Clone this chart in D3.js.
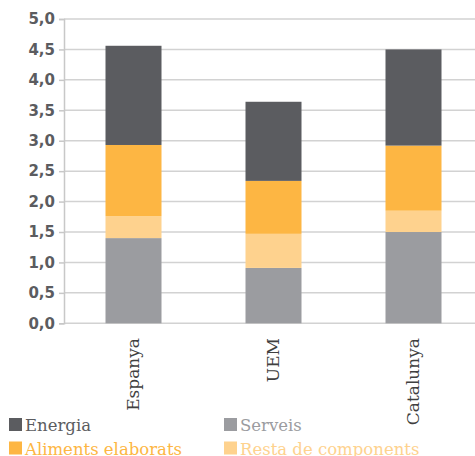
<!DOCTYPE html>
<html>
<head>
<meta charset="utf-8">
<script src="https://cdn.jsdelivr.net/npm/d3@7"></script>
<style>
  html, body { margin: 0; padding: 0; background: #ffffff; }
  svg { display: block; }
</style>
</head>
<body>
<svg id="chart" width="475" height="456"></svg>
<script>
// Contribució de cada component a la inflació
const categories = ["Espanya", "UEM", "Catalunya"];
const serveis    = [1.40, 0.91, 1.50];
const resta      = [0.36, 0.56, 0.35];
const aliments   = [1.17, 0.87, 1.07];
const energia    = [1.63, 1.30, 1.58];
const yTicks     = [0, 0.5, 1, 1.5, 2, 2.5, 3, 3.5, 4, 4.5, 5];

// stacking order, bottom to top
const seriesNames = ["Serveis", "Resta de components", "Aliments elaborats", "Energia"];
const seriesValues = [serveis, resta, aliments, energia];
const colors = {
  "Energia": "#5b5c60",
  "Serveis": "#9b9ca0",
  "Aliments elaborats": "#fdb643",
  "Resta de components": "#fed28e"
};

const rows = categories.map((c, i) => {
  const r = { cat: c };
  seriesNames.forEach((s, k) => { r[s] = seriesValues[k][i]; });
  return r;
});
const stacked = d3.stack().keys(seriesNames)(rows);

const svg = d3.select("#chart");
const y = d3.scaleLinear().domain([0, 5]).range([323.3, 19]);
const x = d3.scaleBand().domain(categories).range([63.5, 483.5])
  .paddingInner(0.6).paddingOuter(0.3);
const axisX = 64;

// horizontal grid
svg.append("g").selectAll("line").data(yTicks).join("line")
  .attr("x1", axisX).attr("x2", 475)
  .attr("y1", d => y(d)).attr("y2", d => y(d))
  .attr("stroke", "#d2d2d2").attr("stroke-width", 1.5);

// bars
svg.append("g").selectAll("g").data(stacked).join("g")
  .attr("fill", d => colors[d.key])
  .selectAll("rect").data(d => d).join("rect")
  .attr("x", d => x(d.data.cat))
  .attr("width", x.bandwidth())
  .attr("y", d => y(d[1]))
  .attr("height", d => y(d[0]) - y(d[1]));

// y axis
const yAxis = d3.axisLeft(y).tickValues(yTicks).tickSize(5).tickPadding(4)
  .tickFormat(d => d3.format(".1f")(d).replace(".", ","));
const ya = svg.append("g").attr("transform", `translate(${axisX},0)`).call(yAxis);
ya.select(".domain").attr("stroke", "#c8c8c8").attr("stroke-width", 1.5);
ya.selectAll(".tick line").attr("stroke", "#c8c8c8").attr("stroke-width", 1.5);
ya.selectAll(".tick text")
  .attr("fill", "#5b5c60")
  .style("font-family", "'DejaVu Sans', sans-serif")
  .style("font-weight", "bold")
  .style("font-size", "15px");

// category labels, rotated
svg.append("g").selectAll("text").data(categories).join("text")
  .attr("transform", d => `translate(${x(d) + x.bandwidth() / 2},338) rotate(-90)`)
  .attr("text-anchor", "end")
  .attr("dy", "0.3em")
  .attr("fill", "#404040")
  .style("font-family", "'DejaVu Serif', serif")
  .style("font-size", "17px")
  .text(d => d);

// legend
const legendItems = ["Energia", "Serveis", "Aliments elaborats", "Resta de components"];
const lg = svg.append("g").selectAll("g").data(legendItems).join("g")
  .attr("transform", (d, i) => `translate(${i % 2 ? 224 : 9},${418 + Math.floor(i / 2) * 23.5})`);
lg.append("rect").attr("width", 13).attr("height", 13).attr("fill", d => colors[d]);
lg.append("text").attr("x", 16).attr("y", 13)
  .attr("fill", d => colors[d])
  .style("font-family", "'DejaVu Serif', serif")
  .style("font-size", "16.5px")
  .text(d => d);
</script>
</body>
</html>
